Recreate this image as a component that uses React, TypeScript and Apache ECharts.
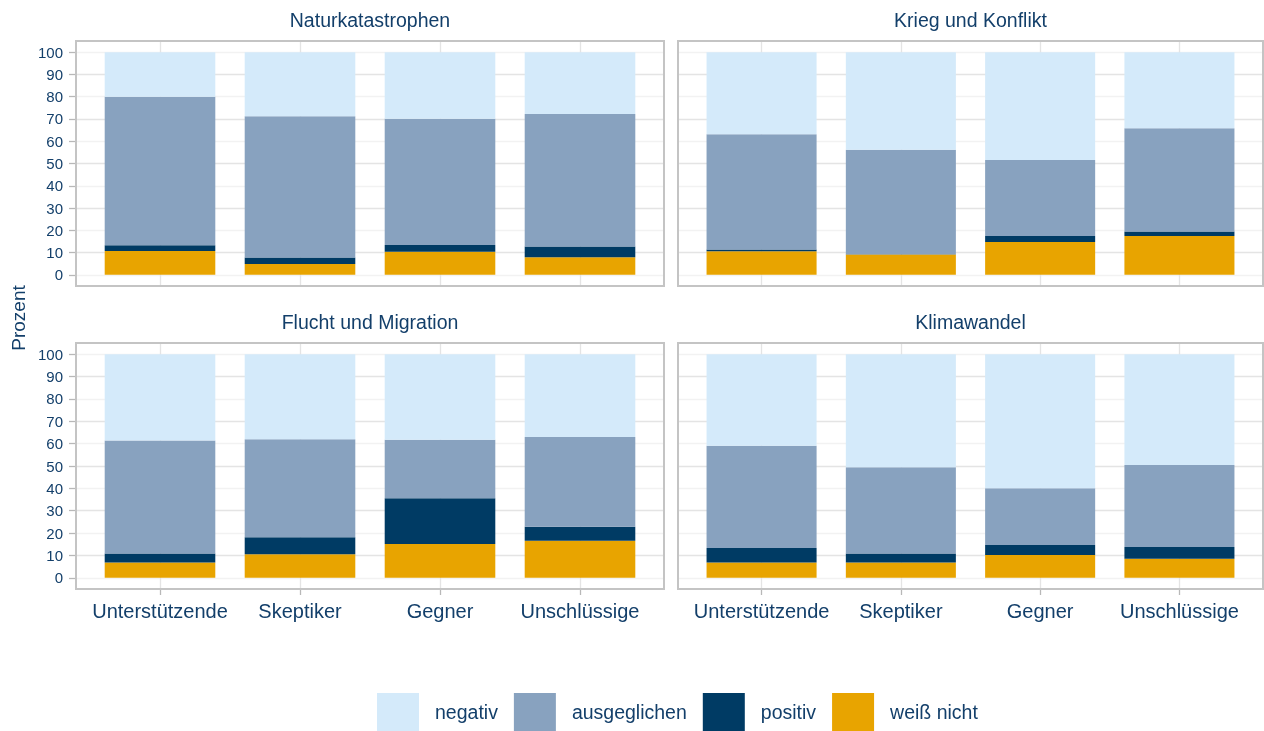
import React, { useEffect, useRef } from 'react';
import * as echarts from 'echarts';

const categories = ['Unterstützende', 'Skeptiker', 'Gegner', 'Unschlüssige'];
const panelTitles = ['Naturkatastrophen', 'Krieg und Konflikt', 'Flucht und Migration', 'Klimawandel'];
const legendNames = ['negativ', 'ausgeglichen', 'positiv', 'weiß nicht'];
const stackOrder = ['weiß nicht', 'positiv', 'ausgeglichen', 'negativ'];
const yTicks = [0, 10, 20, 30, 40, 50, 60, 70, 80, 90, 100];
const categoryPositions = [1, 2, 3, 4];

// Naturkatastrophen
const naturWeissNicht = [10.7, 4.9, 10.4, 7.9];
const naturPositiv = [2.6, 2.9, 3.0, 4.8];
const naturAusgeglichen = [66.7, 63.4, 56.7, 59.5];
const naturNegativ = [20.0, 28.8, 29.9, 27.8];

// Krieg und Konflikt
const kriegWeissNicht = [10.6, 9.1, 14.7, 17.4];
const kriegPositiv = [0.8, 0.2, 2.7, 2.1];
const kriegAusgeglichen = [51.7, 46.9, 34.2, 46.3];
const kriegNegativ = [36.9, 43.8, 48.4, 34.2];

// Flucht und Migration
const fluchtWeissNicht = [6.9, 10.5, 15.1, 16.6];
const fluchtPositiv = [4.0, 7.6, 20.5, 6.2];
const fluchtAusgeglichen = [50.5, 43.9, 26.1, 40.2];
const fluchtNegativ = [38.6, 38.0, 38.3, 37.0];

// Klimawandel
const klimaWeissNicht = [6.9, 6.9, 10.2, 8.5];
const klimaPositiv = [6.4, 4.0, 4.5, 5.3];
const klimaAusgeglichen = [45.8, 38.5, 25.3, 36.6];
const klimaNegativ = [40.9, 50.6, 60.0, 49.6];

const colors: Record<string, string> = {
  'negativ': '#d4eafa',
  'ausgeglichen': '#88a2bf',
  'positiv': '#003b64',
  'weiß nicht': '#e8a400',
};

const TEXT = '#133f6a';
const FONT = '"Liberation Sans", Arial, sans-serif';

export default function App() {
  const ref = useRef<HTMLDivElement>(null);
  useEffect(() => {
    const chart = echarts.init(ref.current!, null, { renderer: 'svg' });
    const layout = [
      { left: 76, top: 41, width: 588, height: 245, showY: true, showX: false },
      { left: 678, top: 41, width: 585, height: 245, showY: false, showX: false },
      { left: 76, top: 343, width: 588, height: 246, showY: true, showX: true },
      { left: 678, top: 343, width: 585, height: 246, showY: false, showX: true },
    ];
    const panelData = [
      [naturWeissNicht, naturPositiv, naturAusgeglichen, naturNegativ],
      [kriegWeissNicht, kriegPositiv, kriegAusgeglichen, kriegNegativ],
      [fluchtWeissNicht, fluchtPositiv, fluchtAusgeglichen, fluchtNegativ],
      [klimaWeissNicht, klimaPositiv, klimaAusgeglichen, klimaNegativ],
    ];
    // ggplot-like expansion: 0.6 category units on each side of 4 categories
    const insetOf = (w: number) => (w * 0.1) / 4.2;

    const frameGrids = layout.map((l) => ({
      left: l.left, top: l.top, width: l.width, height: l.height,
      show: true, borderColor: '#c4c4c4', borderWidth: 2, z: 10,
    }));
    const barGrids = layout.map((l) => ({
      left: l.left + insetOf(l.width), top: l.top,
      width: l.width - 2 * insetOf(l.width), height: l.height,
      show: false,
    }));

    const frameX = layout.map((l, k) => ({
      type: 'value', gridIndex: k, min: 0.4, max: 4.6, position: 'bottom',
      axisLine: { show: false, onZero: false },
      splitLine: { show: false },
      axisLabel: { show: false },
      axisTick: {
        show: true, inside: true, length: l.height, customValues: categoryPositions,
        lineStyle: { color: '#e4e4e4', width: 1.3 },
      },
    }));
    const barX = layout.map((l, k) => ({
      type: 'category', gridIndex: 4 + k, data: categories, position: 'bottom',
      axisLine: { show: false, onZero: false },
      splitLine: { show: false },
      axisTick: {
        show: l.showX, alignWithLabel: true, length: 6,
        lineStyle: { color: '#b8b8b8', width: 1.3 },
      },
      axisLabel: {
        show: l.showX, margin: 12, interval: 0,
        fontSize: 20, color: TEXT, fontFamily: FONT,
      },
    }));

    const frameY = layout.map((l, k) => ({
      type: 'value', gridIndex: k, min: -5, max: 105, interval: 5,
      axisLine: { show: false },
      splitLine: { show: true, lineStyle: { color: ['#f2f2f2', '#e4e4e4'], width: 1.3 } },
      axisTick: {
        show: l.showY, length: 7, customValues: yTicks,
        lineStyle: { color: '#b8b8b8', width: 1.3 },
      },
      axisLabel: {
        show: l.showY, customValues: yTicks, margin: 13,
        fontSize: 15, color: TEXT, fontFamily: FONT,
      },
    }));
    const barY = layout.map((l, k) => ({
      type: 'value', gridIndex: 4 + k, min: -5, max: 105, show: false,
      splitLine: { show: false },
    }));

    const series: any[] = [];
    panelData.forEach((arrs, k) => {
      arrs.forEach((vals, j) => {
        const name = stackOrder[j];
        series.push({
          type: 'bar', name, xAxisIndex: 4 + k, yAxisIndex: 4 + k, stack: 'p' + k,
          barWidth: '79%',
          data: vals,
          itemStyle: { color: colors[name] },
          emphasis: { disabled: true },
        });
      });
    });

    const title = layout.map((l, k) => ({
      text: panelTitles[k],
      left: l.left + l.width / 2,
      top: l.top - 31,
      textAlign: 'center',
      padding: 0,
      textStyle: { fontSize: 19.5, fontWeight: 'normal', color: TEXT, fontFamily: FONT },
    }));

    chart.setOption({
      animation: false,
      title,
      grid: [...frameGrids, ...barGrids],
      xAxis: [...frameX, ...barX],
      yAxis: [...frameY, ...barY],
      series,
      legend: {
        data: legendNames,
        left: 377, top: 693, padding: 0,
        itemWidth: 42, itemHeight: 38, itemGap: 16,
        icon: 'rect',
        selectedMode: false,
        textStyle: { fontSize: 19.5, color: TEXT, fontFamily: FONT, padding: [6, 0, 0, 11] },
      },
      graphic: [
        {
          type: 'text', x: 18, y: 318, rotation: Math.PI / 2,
          style: {
            text: 'Prozent', align: 'center', verticalAlign: 'middle',
            fontSize: 19, fill: TEXT, fontFamily: FONT,
          },
        },
      ],
    });
    return () => chart.dispose();
  }, []);
  return <div ref={ref} style={{ position: 'fixed', left: 0, top: 0, width: 1264, height: 731 }} />;
}
